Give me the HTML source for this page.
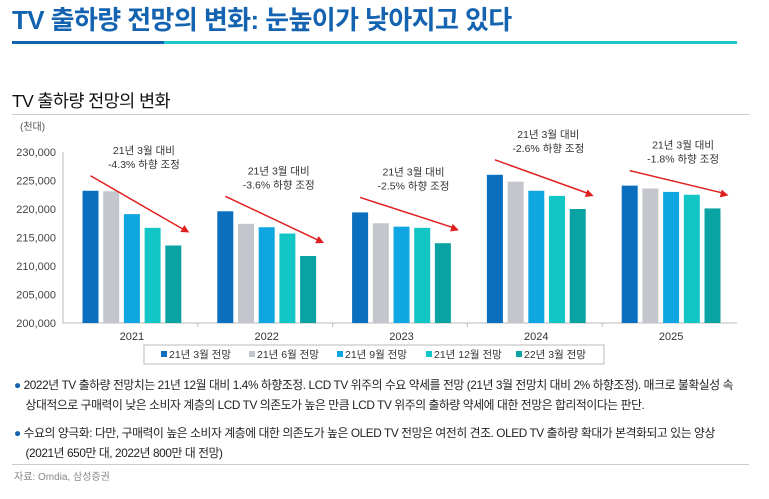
<!DOCTYPE html>
<html><head><meta charset="utf-8"><style>
body{margin:0;width:769px;height:499px;background:#fff;font-family:"Liberation Sans","Noto Sans CJK KR",sans-serif;overflow:hidden;position:relative}
.abs{position:absolute;white-space:nowrap}
</style></head><body>
<div class="abs" style="left:12px;top:0px;font-size:26px;font-weight:bold;color:#1463b0;letter-spacing:-0.6px">TV 출하량 전망의 변화: 눈높이가 낮아지고 있다</div>
<div class="abs" style="left:12px;top:41px;width:725px;height:3px;background:#1fc4cc"></div>
<div class="abs" style="left:12px;top:41px;width:152px;height:3px;background:#1463b0"></div>
<div class="abs" style="left:12px;top:88px;font-size:17.5px;color:#111;letter-spacing:-0.6px">TV 출하량 전망의 변화</div>
<div class="abs" style="left:12px;top:114px;width:737px;height:1px;background:#ccc"></div>
<svg class="abs" style="left:0;top:0" width="769" height="499" id="chart"></svg>
<div class="abs" style="left:14px;top:375px;font-size:11.8px;line-height:20px;color:#222;letter-spacing:-0.4px"><span style="color:#1463b0">●</span> 2022년 TV 출하량 전망치는 21년 12월 대비 1.4% 하향조정. LCD TV 위주의 수요 약세를 전망 (21년 3월 전망치 대비 2% 하향조정). 매크로 불확실성 속<br>&nbsp;&nbsp;&nbsp;&nbsp;상대적으로 구매력이 낮은 소비자 계층의 LCD TV 의존도가 높은 만큼 LCD TV 위주의 출하량 약세에 대한 전망은 합리적이다는 판단.</div>
<div class="abs" style="left:14px;top:423px;font-size:11.8px;line-height:20px;color:#222;letter-spacing:-0.4px"><span style="color:#1463b0">●</span> 수요의 양극화: 다만, 구매력이 높은 소비자 계층에 대한 의존도가 높은 OLED TV 전망은 여전히 견조. OLED TV 출하량 확대가 본격화되고 있는 양상<br>&nbsp;&nbsp;&nbsp;&nbsp;(2021년 650만 대, 2022년 800만 대 전망)</div>
<div class="abs" style="left:12px;top:464px;width:737px;height:1px;background:#ccc"></div>
<div class="abs" style="left:14px;top:468px;font-size:10px;color:#888">자료: Omdia, 삼성증권</div>
<script>
const categories=["2021","2022","2023","2024","2025"];
const seriesNames=["21년 3월 전망","21년 6월 전망","21년 9월 전망","21년 12월 전망","22년 3월 전망"];
const s1=[223200,219600,219400,226000,224100];
const s2=[223100,217400,217500,224800,223600];
const s3=[219100,216800,216900,223200,223000];
const s4=[216700,215700,216700,222300,222500];
const s5=[213600,211750,214000,220000,220100];
const yTicks=[200000,205000,210000,215000,220000,225000,230000];
const notes=["-4.3%","-3.6%","-2.5%","-2.6%","-1.8%"];
const colors=["#0a6fbf","#c3c6cc","#10a6e2","#12c6c6","#0aa3a3"];
const NS="http://www.w3.org/2000/svg";
const svg=document.getElementById('chart');
const x0=63,x1=737,yB=323,yT=152;
const y=v=>yB-(v-200000)/30000*(yB-yT);
const gw=(x1-x0)/categories.length;
function el(t,a,txt){const e=document.createElementNS(NS,t);for(const k in a)e.setAttribute(k,a[k]);if(txt!=null)e.textContent=txt;svg.appendChild(e);return e;}
yTicks.forEach(v=>{const t=el('text',{x:56,y:y(v)+4,'text-anchor':'end','font-size':11,fill:'#444'},v.toLocaleString('en-US'));

});
const ax=el('line',{x1:x0,y1:yT,x2:x0,y2:yB,stroke:'#bbb'});


const xa=el('line',{x1:x0,y1:yB,x2:x1,y2:yB,stroke:'#bbb'});


const un=el('text',{x:20,y:130,'font-size':10,fill:'#555'},'(천대)');


const series=[s1,s2,s3,s4,s5];
const bw=16,bs=20.7;
categories.forEach((c,i)=>{
 const cx=x0+gw*(i+0.5)+1.5;
 const lb=el('text',{x:cx,y:yB+17,'text-anchor':'middle','font-size':11,fill:'#333'},c);
 
 
 if(i>0){const tk=el('line',{x1:x0+gw*i,y1:yB,x2:x0+gw*i,y2:yB+4,stroke:'#bbb'});}
 series.forEach((s,j)=>{
  const bx=cx-2*bs-bw/2+j*bs;
  const r=el('rect',{x:bx,y:y(s[i]),width:bw,height:yB-y(s[i]),fill:colors[j]});
  
  
 });
 const ax1=cx-2*bs, ay1=y(s1[i])-15, ax2=cx+2*bs+bw, ay2=y(s5[i])-13;
 const ar=el('line',{x1:ax1,y1:ay1,x2:ax2-4,y2:ay2-2,stroke:'#e02020','stroke-width':1.5});
 
 
 const ang=Math.atan2(ay2-ay1,ax2-ax1);
 const p=[[ax2,ay2],[ax2-8*Math.cos(ang)+4*Math.sin(ang),ay2-8*Math.sin(ang)-4*Math.cos(ang)],[ax2-8*Math.cos(ang)-4*Math.sin(ang),ay2-8*Math.sin(ang)+4*Math.cos(ang)]];
 const hd=el('polygon',{points:p.map(q=>q.join(',')).join(' '),fill:'#e02020'});
 
 
 const lx=(ax1+ax2)/2+4, ly=Math.min(ay1,ay2)-22;
 const t1=el('text',{x:lx,y:ly,'text-anchor':'middle','font-size':10.5,fill:'#333'},'21년 3월 대비');
 
 
 const t2=el('text',{x:lx,y:ly+14,'text-anchor':'middle','font-size':10.5,fill:'#333'},notes[i]+' 하향 조정');
 
 
});
const lgb=el('rect',{x:144,y:345,width:460,height:19,fill:'#fff',stroke:'#bbb'});


const lx0=[161,249,337,426,516];
seriesNames.forEach((n,j)=>{
 const sq=el('rect',{x:lx0[j],y:351,width:6,height:6,fill:colors[j]});
 
 
 const t=el('text',{x:lx0[j]+8,y:358,'font-size':10.5,fill:'#333'},n);
 
 
});
</script>
</body></html>
